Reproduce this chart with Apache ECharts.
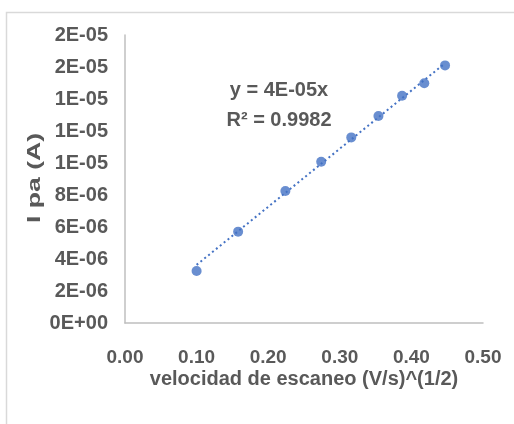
<!DOCTYPE html>
<html>
<head>
<meta charset="utf-8">
<script src="https://cdn.jsdelivr.net/npm/echarts@6/dist/echarts.min.js"></script>
<style>
  html, body { margin: 0; padding: 0; background: #fff; }
  #chart { width: 514px; height: 424px; }
</style>
</head>
<body>
<div id="chart"></div>
<script>
// Square root of the scan rate, (V/s)^(1/2)
const scanRateSqrt = [0.100, 0.158, 0.224, 0.274, 0.316, 0.354, 0.387, 0.418, 0.447];
// Anodic peak current, A
const peakCurrent = [3.25e-6, 5.71e-6, 8.25e-6, 10.08e-6, 11.6e-6, 12.94e-6, 14.2e-6, 14.98e-6, 16.1e-6];

const equationText = 'y = 4E-05x';
const r2Text = 'R² = 0.9982';
const xTitle = 'velocidad de escaneo (V/s)^(1/2)';
const yTitle = 'I pa (A)';

const FONT = '"Liberation Sans", Arial, sans-serif';
const TEXT_COLOR = '#595959';
const MARK_COLOR = '#4472c4';
const AXIS_COLOR = '#bfbfbf';

// Least-squares line forced through the origin
let sxy = 0, sxx = 0;
scanRateSqrt.forEach((x, i) => { sxy += x * peakCurrent[i]; sxx += x * x; });
const slope = sxy / sxx;
const xMin = Math.min(...scanRateSqrt);
const xMax = Math.max(...scanRateSqrt);
const trend = [[xMin, slope * xMin], [xMax, slope * xMax]];

// Scientific labels in spreadsheet style, e.g. 2E-06, 0E+00
function sci(v) {
  if (Math.abs(v) < 1e-15) return '0E+00';
  const s = v.toExponential(0);
  const m = s.split('e');
  const e = parseInt(m[1], 10);
  const sign = e < 0 ? '-' : '+';
  const ea = Math.abs(e);
  return m[0] + 'E' + sign + (ea < 10 ? '0' + ea : '' + ea);
}

const chart = echarts.init(document.getElementById('chart'), null, { renderer: 'canvas' });
chart.setOption({
  animation: false,
  backgroundColor: '#ffffff',
  grid: { left: 125, right: 31, top: 35, bottom: 101, containLabel: false },
  xAxis: {
    type: 'value', min: 0, max: 0.5, interval: 0.1,
    name: xTitle, nameLocation: 'middle', nameGap: 46, nameMoveOverlap: false,
    nameTextStyle: { fontFamily: FONT, fontWeight: 'bold', fontSize: 20, color: TEXT_COLOR },
    axisLine: { show: true, lineStyle: { color: AXIS_COLOR, width: 1.5 } },
    axisTick: { show: false },
    splitLine: { show: false },
    axisLabel: {
      margin: 25, fontFamily: FONT, fontWeight: 'bold', fontSize: 19, color: TEXT_COLOR,
      formatter: v => v.toFixed(2)
    }
  },
  yAxis: {
    type: 'value', min: 0, max: 1.8e-5, interval: 2e-6,
    axisLine: { show: true, lineStyle: { color: AXIS_COLOR, width: 1.5 } },
    axisTick: { show: false },
    splitLine: { show: false },
    axisLabel: {
      margin: 17, fontFamily: FONT, fontWeight: 'bold', fontSize: 20, color: TEXT_COLOR,
      formatter: sci
    }
  },
  series: [
    {
      type: 'line', data: trend, showSymbol: false, symbol: 'none',
      lineStyle: { color: MARK_COLOR, width: 2, type: [2, 3] },
      silent: true, z: 1
    },
    {
      type: 'scatter', data: scanRateSqrt.map((x, i) => [x, peakCurrent[i]]),
      symbol: 'circle', symbolSize: 10,
      itemStyle: { color: MARK_COLOR }, z: 2
    }
  ],
  graphic: [
    {
      type: 'rect', left: 4, top: 10, silent: true,
      shape: { width: 540, height: 440 },
      style: { fill: 'none', stroke: '#d9d9d9', lineWidth: 1.5 }
    },
    {
      // vertical axis title, widely set along its length
      type: 'text', x: 35, y: 178, rotation: Math.PI / 2, scaleX: 1.4, silent: true,
      style: { text: yTitle, font: 'bold 19px ' + FONT, fill: TEXT_COLOR,
               align: 'center', verticalAlign: 'middle' }
    },
    {
      type: 'text', x: 279, y: 75, silent: true,
      style: { text: equationText + '\n' + r2Text, font: 'bold 20px ' + FONT, fill: TEXT_COLOR,
               align: 'center', verticalAlign: 'top', lineHeight: 30 }
    }
  ]
});
</script>
</body>
</html>
